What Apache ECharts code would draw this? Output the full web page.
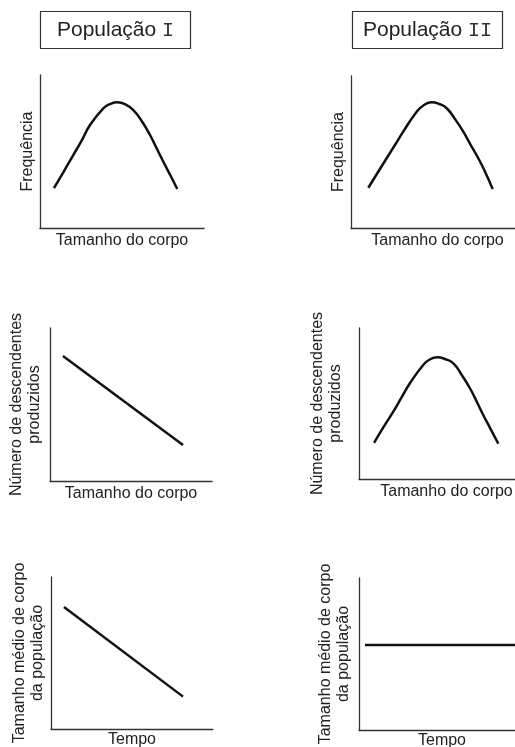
<!DOCTYPE html>
<html>
<head>
<meta charset="utf-8">
<script src="https://cdn.jsdelivr.net/npm/echarts@6/dist/echarts.min.js"></script>
<style>
html,body{margin:0;padding:0;background:#fff;}
#chart{width:515px;height:747px;}
</style>
</head>
<body>
<div id="chart"></div>
<script>
// ---- data (arbitrary units 0..10 per panel) ----
const populationTitles = ['População ', 'População '];
const populationNumerals = ['I', 'II'];

const xNames = ['Tamanho do corpo', 'Tamanho do corpo', 'Tamanho do corpo', 'Tamanho do corpo', 'Tempo', 'Tempo'];
const yNames = ['Frequência', 'Frequência',
  'Número de descendentes\nproduzidos', 'Número de descendentes\nproduzidos',
  'Tamanho médio de corpo\nda população', 'Tamanho médio de corpo\nda população'];

// Frequência x Tamanho do corpo
const freqPopI = [[0.85,2.6],[1.42,3.64],[2.03,4.77],[2.54,5.71],[3.05,6.73],[3.86,7.82],[4.27,8.10],[4.71,8.22],
  [5.18,8.10],[5.69,7.71],[6.20,6.99],[6.71,6.08],[7.11,5.21],[7.52,4.33],[7.97,3.40],[8.37,2.55]];
const freqPopII = [[1.0,2.65],[1.52,3.60],[2.06,4.59],[2.54,5.46],[3.02,6.34],[3.80,7.65],[4.22,8.09],[4.66,8.27],
  [5.10,8.16],[5.53,7.88],[6.01,7.17],[6.49,6.34],[6.92,5.46],[7.36,4.59],[7.78,3.62],[8.19,2.57]];
// Número de descendentes x Tamanho do corpo
const descPopI = [[0.8,8.17],[8.21,2.35]];
const descPopII = [[0.86,2.40],[1.39,3.42],[1.96,4.46],[2.44,5.42],[2.91,6.34],[3.67,7.55],[4.06,7.93],[4.47,8.06],
  [4.91,7.95],[5.39,7.66],[5.87,6.89],[6.34,6.01],[6.73,5.12],[7.10,4.24],[7.53,3.29],[7.96,2.34]];
// Tamanho médio x Tempo
const sizePopI = [[0.8,8.03],[8.15,2.13]];
const sizePopII = [[0.36,5.59],[10,5.59]];

const seriesData = [freqPopI, freqPopII, descPopI, descPopII, sizePopI, sizePopII];
const smoothFlags = [true, true, false, true, false, false];

// ---- layout ----
const grids = [
  {left: 40, top: 75, width: 164, height: 153},
  {left: 351, top: 76, width: 173, height: 152},
  {left: 50, top: 328, width: 162, height: 153},
  {left: 359, top: 328, width: 175, height: 151},
  {left: 51, top: 577, width: 162, height: 152},
  {left: 359, top: 578, width: 166, height: 152}
].map(g => Object.assign({outerBoundsMode: 'none', containLabel: false}, g));
const xGaps = [5, 5, 5, 5, 3, 3];
const yGaps = [3, 3, 6, 14, 4, 6];

const FONT = '"Liberation Sans", Arial, sans-serif';
const axisColor = '#333';
const textColor = '#222';

const xAxes = grids.map((g, i) => ({
  gridIndex: i, type: 'value', min: 0, max: 10,
  axisLine: {show: true, onZero: false, lineStyle: {color: axisColor, width: 1.3}},
  axisTick: {show: false}, axisLabel: {show: false}, splitLine: {show: false},
  name: xNames[i], nameLocation: 'middle', nameGap: xGaps[i],
  nameTextStyle: {fontFamily: FONT, fontSize: 16, color: textColor, verticalAlign: 'top'}
}));
const yAxes = grids.map((g, i) => ({
  gridIndex: i, type: 'value', min: 0, max: 10,
  axisLine: {show: true, onZero: false, lineStyle: {color: axisColor, width: 1.3}},
  axisTick: {show: false}, axisLabel: {show: false}, splitLine: {show: false},
  name: yNames[i], nameLocation: 'middle', nameGap: yGaps[i], nameRotate: 90,
  nameTextStyle: {fontFamily: FONT, fontSize: 16, color: textColor, lineHeight: 18, align: 'center'}
}));
const series = seriesData.map((d, i) => ({
  type: 'line', xAxisIndex: i, yAxisIndex: i, data: d,
  smooth: smoothFlags[i] ? 0.5 : false, symbol: 'none', clip: true,
  lineStyle: {color: '#111', width: 2.5}, silent: true
}));

const boxes = [{x: 40.5, y: 11.5, w: 150, h: 37}, {x: 352.5, y: 11.5, w: 150, h: 37}];
const graphic = [];
boxes.forEach((b, i) => {
  graphic.push({type: 'rect', shape: {x: b.x, y: b.y, width: b.w, height: b.h},
    style: {fill: '#fff', stroke: axisColor, lineWidth: 1.2}, silent: true});
  graphic.push({type: 'text', x: b.x + b.w / 2, y: b.y + b.h / 2 + 0.5, silent: true,
    style: {text: '{a|' + populationTitles[i] + '}{b|' + populationNumerals[i] + '}',
      align: 'center', verticalAlign: 'middle', fill: textColor,
      rich: {
        a: {fontFamily: FONT, fontSize: 21, fill: textColor, color: textColor},
        b: {fontFamily: '"Liberation Mono", "DejaVu Sans Mono", monospace', fontSize: 20, fill: '#333', color: '#333'}
      }}});
});

const chart = echarts.init(document.getElementById('chart'), null, {renderer: 'canvas'});
chart.setOption({
  animation: false,
  backgroundColor: '#fff',
  grid: grids,
  xAxis: xAxes,
  yAxis: yAxes,
  series: series,
  graphic: graphic
});
</script>
</body>
</html>
